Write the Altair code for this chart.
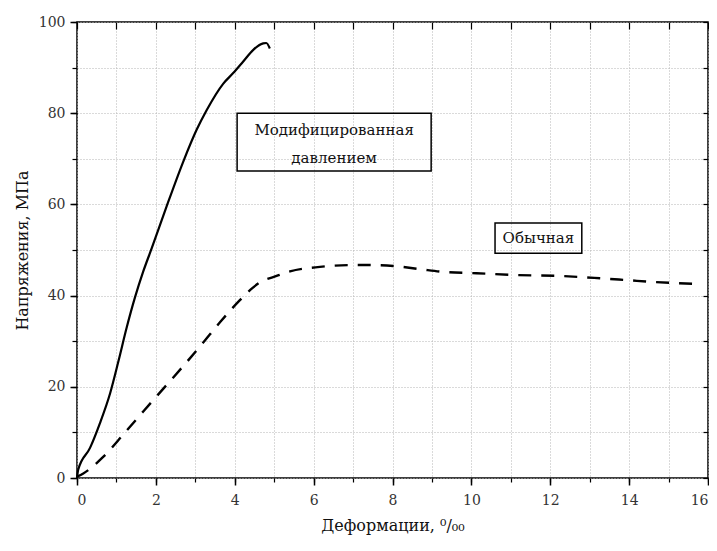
import altair as alt
import pandas as pd

# Curve "Модифицированная давлением" (solid)
mod_x = [0.0, 0.03, 0.33, 0.58, 0.84, 1.05, 1.26, 1.47, 1.68, 1.90, 2.27, 2.70, 3.03, 3.29, 3.71,
         3.96, 4.22, 4.47, 4.72, 4.80, 4.89]
mod_y = [0.0, 1.8, 6.6, 12.0, 18.6, 25.6, 33.0, 39.6, 45.3, 50.5, 59.5, 69.5, 76.3, 80.7, 86.5,
         88.8, 91.4, 93.9, 95.3, 95.4, 94.2]

# Curve "Обычная" (dashed)
ord_x = [0.0, 0.16, 0.67, 1.17, 1.68, 2.19, 2.70, 3.20, 3.63, 4.13, 4.40, 4.64, 5.06, 5.4, 6.16, 7.0,
         7.43, 8.02, 8.7, 9.29, 10.13, 11.15, 12.25, 13.26, 13.94, 14.6, 15.63]
ord_y = [0.3, 1.0, 4.7, 9.5, 14.6, 19.6, 24.6, 29.7, 34.2, 39.0, 41.3, 42.9, 44.3, 45.3, 46.3, 46.7,
         46.7, 46.5, 45.8, 45.2, 44.9, 44.5, 44.3, 43.8, 43.4, 43.0, 42.6]

x_major = [0, 2, 4, 6, 8, 10, 12, 14, 16]
x_all = list(range(0, 17))
y_major = [0, 20, 40, 60, 80, 100]
y_all = list(range(0, 101, 10))

# annotations (data units)
box_x1 = [4.06, 10.6]
box_x2 = [8.98, 12.8]
box_y1 = [67.3, 49.3]
box_y2 = [80.0, 55.9]
lab_text = ["Модифицированная", "давлением", "Обычная"]
lab_x = [6.52, 6.52, 11.7]
lab_y = [76.3, 70.2, 52.6]

FONT = "DejaVu Serif"

df_mod = pd.DataFrame({"x": mod_x, "y": mod_y, "i": range(len(mod_x))})
df_ord = pd.DataFrame({"x": ord_x, "y": ord_y, "i": range(len(ord_x))})
df_box = pd.DataFrame({"x1": box_x1, "x2": box_x2, "y1": box_y1, "y2": box_y2})
df_lab = pd.DataFrame({"t": lab_text, "x": lab_x, "y": lab_y})

xs = alt.Scale(domain=[0, 16], nice=False, zero=False)
ys = alt.Scale(domain=[0, 100], nice=False, zero=False)

main = alt.Chart(df_mod).mark_line(color="black", strokeWidth=2.2, interpolate="monotone").encode(
    x=alt.X("x:Q", scale=xs, axis=alt.Axis(
        orient="bottom", values=x_major, tickSize=7, tickColor="black", tickWidth=1.5,
        domain=False, grid=False, labelFont=FONT, labelFontSize=14, labelColor="#333",
        labelPadding=8, title="Деформации, ⁰/₀₀", titleFont=FONT, titleFontSize=16,
        titleFontWeight="normal", titleColor="#111", titlePadding=10)),
    y=alt.Y("y:Q", scale=ys, axis=alt.Axis(
        orient="left", values=y_major, tickSize=7, tickColor="black", tickWidth=1.5,
        domain=False, grid=False, labelFont=FONT, labelFontSize=14, labelColor="#333",
        labelPadding=5, title="Напряжения, МПа", titleFont=FONT, titleFontSize=16,
        titleFontWeight="normal", titleColor="#111", titlePadding=8)),
    order=alt.Order("i:Q"),
)

dashed = alt.Chart(df_ord).mark_line(color="black", strokeWidth=2.4, strokeDash=[13, 10],
                                     interpolate="monotone").encode(
    x=alt.X("x:Q", scale=xs, axis=alt.Axis(
        orient="bottom", values=x_all, tickSize=4, tickColor="black", tickWidth=1.2,
        domain=False, labels=False, title=None, grid=True, gridColor="#b5b5b5",
        gridDash=[1, 2], gridWidth=1)),
    y=alt.Y("y:Q", scale=ys, axis=alt.Axis(
        orient="left", values=y_all, tickSize=5, tickColor="black", tickWidth=1.2,
        domain=False, labels=False, title=None, grid=True, gridColor="#b5b5b5",
        gridDash=[1, 2], gridWidth=1)),
    order=alt.Order("i:Q"),
)

boxes = alt.Chart(df_box).mark_rect(fill=None, stroke="black", strokeWidth=1.5).encode(
    x=alt.X("x1:Q", scale=xs, axis=alt.Axis(
        orient="top", offset=-7, values=x_all, tickSize=7, tickColor="black", tickWidth=1.2,
        domain=False, labels=False, title=None, grid=False)),
    x2="x2:Q",
    y=alt.Y("y1:Q", scale=ys, axis=alt.Axis(
        orient="right", offset=-5, values=y_all, tickSize=5, tickColor="black", tickWidth=1.2,
        domain=False, labels=False, title=None, grid=False)),
    y2="y2:Q",
)

labels = alt.Chart(df_lab).mark_text(font=FONT, fontSize=15, color="#111", baseline="middle", align="center").encode(
    x=alt.X("x:Q", scale=xs, axis=None),
    y=alt.Y("y:Q", scale=ys, axis=None),
    text="t:N",
)

chart = alt.layer(dashed, main, boxes, labels).resolve_axis(
    x="independent", y="independent"
).properties(
    width=631, height=456,
    autosize=alt.AutoSizeParams(type="none"),
    padding={"left": 69, "top": 14, "right": 1, "bottom": 60},
    background="white",
).configure_view(stroke="black", strokeWidth=1.5)

chart.save("out.html", embed_options={"renderer": "svg", "actions": False})
